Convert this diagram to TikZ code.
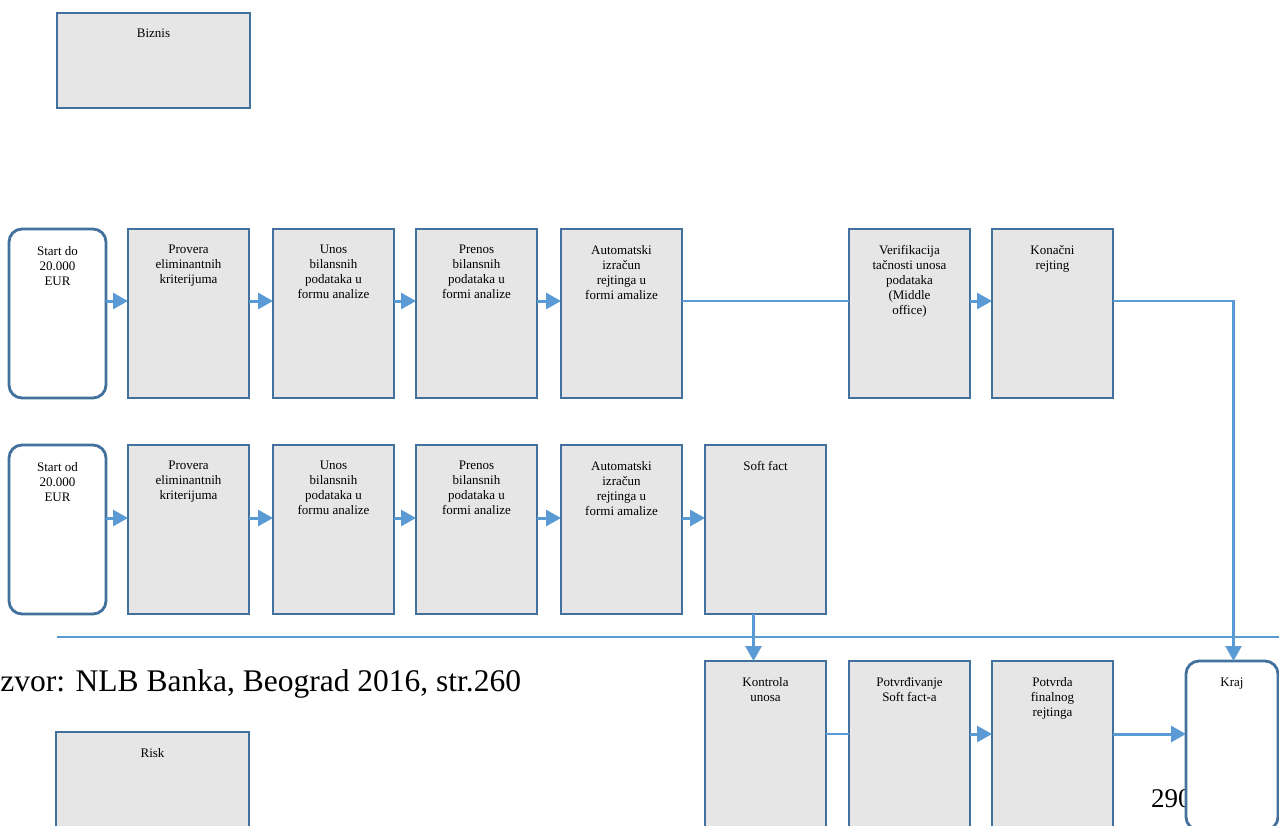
\documentclass[tikz,border=0pt]{standalone}
\usepackage{fontspec}
\setmainfont{Liberation Serif}
\usetikzlibrary{arrows.meta}
\definecolor{boxline}{HTML}{41719C}
\definecolor{flow}{HTML}{5B9BD5}
\definecolor{boxfill}{HTML}{E6E6E6}

\begin{document}
\begin{tikzpicture}[x=1pt,y=-1pt,
  every node/.style={outer sep=0pt},
  stepbox/.style={draw=boxline, fill=boxfill, line width=2.8pt, rectangle,
    anchor=north west, minimum width=121pt, minimum height=169pt, inner sep=0pt},
  termbox/.style={stepbox, fill=white, rounded corners=13pt, minimum width=97pt},
  lanebox/.style={stepbox, minimum width=193pt, minimum height=95pt},
  caption/.style={font=\fontsize{13}{15}\selectfont, align=center, anchor=north,
    inner sep=0pt, yshift=-16pt},
  arr/.style={draw=flow, line width=3pt, -{Triangle[length=15pt,width=16pt]}},
  link/.style={draw=flow, line width=2pt},
  note/.style={font=\fontsize{31.5}{36}\selectfont, anchor=base west, inner sep=0pt}]

\useasboundingbox (0,0) rectangle (1279,825);
\clip (0,0) rectangle (1279,825);

% levels of the horizontal connectors
\coordinate (rowA) at (0,301);
\coordinate (rowB) at (0,518);
\coordinate (rowC) at (0,734);

% swimlane headers
\node[lanebox] (biz) at (57,13) {};
\node[caption] (bizt) at (biz.north) {Biznis};
\node[lanebox] (risk) at (56,732) {};
\node[caption] (riskt) at (risk.north) {Risk};

% separator between the lanes
\coordinate (sepL) at (57,637);
\coordinate (sepR) at (1290,637);
\draw[draw=flow, line width=1.8pt] (sepL) -- (sepR);

% source note and page number
\node[note] (src) at (0.5,691) {zvor: NLB Banka, Beograd 2016, str.260};
\node[note, font=\fontsize{27}{30}\selectfont] (page) at (1151,807) {290};

% first row: up to 20.000 EUR
\node[termbox] (s1) at (9,229) {};
\node[caption, yshift=-1pt] (s1t) at (s1.north) {Start do\\20.000\\EUR};
\node[stepbox] (a1) at (128,229) {};
\node[caption] (a1t) at (a1.north) {Provera\\eliminantnih\\kriterijuma};
\node[stepbox] (b1) at (273,229) {};
\node[caption] (b1t) at (b1.north) {Unos\\bilansnih\\podataka u\\formu analize};
\node[stepbox] (c1) at (416,229) {};
\node[caption] (c1t) at (c1.north) {Prenos\\bilansnih\\podataka u\\formi analize};
\node[stepbox] (d1) at (561,229) {};
\node[caption] (d1t) at (d1.north) {Automatski\\izračun\\rejtinga u\\formi amalize};
\node[stepbox] (v1) at (849,229) {};
\node[caption] (v1t) at (v1.north) {Verifikacija\\tačnosti unosa\\podataka\\(Middle\\office)};
\node[stepbox] (k1) at (992,229) {};
\node[caption] (k1t) at (k1.north) {Konačni\\rejting};

% second row: from 20.000 EUR
\node[termbox] (s2) at (9,445) {};
\node[caption, yshift=-1pt] (s2t) at (s2.north) {Start od\\20.000\\EUR};
\node[stepbox] (a2) at (128,445) {};
\node[caption] (a2t) at (a2.north) {Provera\\eliminantnih\\kriterijuma};
\node[stepbox] (b2) at (273,445) {};
\node[caption] (b2t) at (b2.north) {Unos\\bilansnih\\podataka u\\formu analize};
\node[stepbox] (c2) at (416,445) {};
\node[caption] (c2t) at (c2.north) {Prenos\\bilansnih\\podataka u\\formi analize};
\node[stepbox] (d2) at (561,445) {};
\node[caption] (d2t) at (d2.north) {Automatski\\izračun\\rejtinga u\\formi amalize};
\node[stepbox] (sf) at (705,445) {};
\node[caption] (sft) at (sf.north) {Soft fact};

% risk row
\node[stepbox] (ko) at (705,661) {};
\node[caption] (kot) at (ko.north) {Kontrola\\unosa};
\node[stepbox] (pv) at (849,661) {};
\node[caption] (pvt) at (pv.north) {Potvrđivanje\\Soft fact-a};
\node[stepbox] (pf) at (992,661) {};
\node[caption] (pft) at (pf.north) {Potvrda\\finalnog\\rejtinga};
\node[termbox, minimum width=92pt] (kraj) at (1186,661) {};
\node[caption, yshift=-1pt] (krajt) at (kraj.north) {Kraj};

% connectors, first row
\draw[arr] (s1.east |- rowA) -- (a1.west |- rowA);
\draw[arr] (a1.east |- rowA) -- (b1.west |- rowA);
\draw[arr] (b1.east |- rowA) -- (c1.west |- rowA);
\draw[arr] (c1.east |- rowA) -- (d1.west |- rowA);
\draw[link, line width=1.8pt] (d1.east |- rowA) -- (v1.west |- rowA);
\draw[arr] (v1.east |- rowA) -- (k1.west |- rowA);
\draw[arr, line width=2.4pt] (k1.east |- rowA) -| ([xshift=1.5pt]kraj.north);

% connectors, second row
\draw[arr] (s2.east |- rowB) -- (a2.west |- rowB);
\draw[arr] (a2.east |- rowB) -- (b2.west |- rowB);
\draw[arr] (b2.east |- rowB) -- (c2.west |- rowB);
\draw[arr] (c2.east |- rowB) -- (d2.west |- rowB);
\draw[arr] (d2.east |- rowB) -- (sf.west |- rowB);
\draw[arr] ([xshift=-12pt]sf.south) -- ([xshift=-12pt]ko.north);

% connectors, risk row
\draw[link] (ko.east |- rowC) -- (pv.west |- rowC);
\draw[arr] (pv.east |- rowC) -- (pf.west |- rowC);
\draw[arr] (pf.east |- rowC) -- (kraj.west |- rowC);

\end{tikzpicture}
\end{document}
